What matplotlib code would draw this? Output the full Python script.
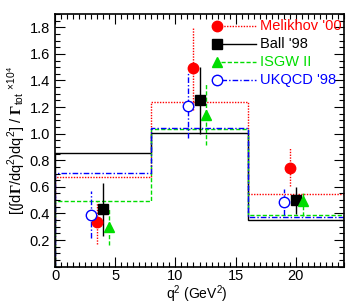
import matplotlib
matplotlib.use("Agg")
import matplotlib.pyplot as plt
from matplotlib.ticker import MultipleLocator
import numpy as np

plt.rcParams['font.family'] = ['Liberation Sans', 'DejaVu Sans']
plt.rcParams['mathtext.fontset'] = 'custom'
plt.rcParams['mathtext.rm'] = 'Liberation Sans'
plt.rcParams['mathtext.it'] = 'Liberation Sans'
plt.rcParams['mathtext.bf'] = 'Liberation Serif:bold'

bin_edges = [0, 8, 16, 24]
series = ["Melikhov '00", "Ball '98", "ISGW II", "UKQCD '98"]
colors = ['#ff0000', '#000000', '#00dd00', '#0000ff']
linestyles = [(0, (1, 1)), '-', (0, (3, 1.5)), (0, (4, 1.5, 1, 1.5))]
markers = ['o', 's', '^', 'o']
filled = [True, True, True, False]

hist_vals = {
    "Melikhov '00": [0.675, 1.235, 0.547],
    "Ball '98": [0.852, 1.003, 0.353],
    "ISGW II": [0.497, 1.035, 0.388],
    "UKQCD '98": [0.706, 1.045, 0.373],
}
pt_x = {
    "Melikhov '00": [3.5, 11.5, 19.5],
    "Ball '98": [4.0, 12.0, 20.0],
    "ISGW II": [4.5, 12.5, 20.6],
    "UKQCD '98": [3.0, 11.05, 19.05],
}
pt_y = {
    "Melikhov '00": [0.333, 1.49, 0.744],
    "Ball '98": [0.434, 1.255, 0.504],
    "ISGW II": [0.298, 1.14, 0.49],
    "UKQCD '98": [0.39, 1.21, 0.487],
}
err_lo = {
    "Melikhov '00": [0.17, 1.18, 0.605],
    "Ball '98": [0.232, 0.995, 0.398],
    "ISGW II": [0.164, 0.912, 0.378],
    "UKQCD '98": [0.215, 0.97, 0.39],
}
err_hi = {
    "Melikhov '00": [0.484, 1.80, 0.895],
    "Ball '98": [0.63, 1.504, 0.597],
    "ISGW II": [0.43, 1.373, 0.572],
    "UKQCD '98": [0.567, 1.466, 0.587],
}

fig = plt.figure(figsize=(3.55, 3.04), dpi=100)
ax = fig.add_axes([0.155, 0.123, 0.814, 0.831])

for s, c, ls in zip(series, colors, linestyles):
    v = hist_vals[s]
    ax.stairs(v, bin_edges, color=c, linestyle=ls, linewidth=1.0)

for s, c, ls, m, f in zip(series, colors, linestyles, markers, filled):
    xs = pt_x[s]
    ax.vlines(xs, err_lo[s], err_hi[s], colors=c, linestyles=[ls], linewidth=1.0, zorder=3)
    ax.plot(xs, pt_y[s], linestyle='none', marker=m, markersize=7.5,
            markerfacecolor=c if f else 'white', markeredgecolor=c,
            markeredgewidth=1.0, zorder=4)

# legend (manual, ROOT-style: marker at left, line to the right)
for i, (s, c, ls, m, f) in enumerate(zip(series, colors, linestyles, markers, filled)):
    yy = 0.954 - i * 0.0714
    ax.plot([0.575, 0.697], [yy, yy], transform=ax.transAxes, color=c, linestyle=ls, lw=1.0, clip_on=False, zorder=5)
    ax.plot([0.56], [yy], transform=ax.transAxes, marker=m, markersize=7.5, linestyle='none',
            markerfacecolor=c if f else 'white', markeredgecolor=c, markeredgewidth=1.0, zorder=6)
    ax.text(0.71, yy, s, transform=ax.transAxes, color=c, fontsize=10.5, va='center', ha='left', zorder=7)

ax.set_xlim(0, 24)
ax.set_ylim(0, 1.9)
ax.xaxis.set_major_locator(MultipleLocator(5))
ax.xaxis.set_minor_locator(MultipleLocator(0.5))
ax.yaxis.set_major_locator(MultipleLocator(0.2))
ax.yaxis.set_minor_locator(MultipleLocator(0.05))
ax.tick_params(which='both', direction='in', top=True, right=True, labelsize=10.5, width=0.8)
ax.tick_params(which='major', length=7)
ax.tick_params(which='minor', length=3.5)
ax.tick_params(axis='x', which='major', pad=2)
ax.set_yticks([0.2, 0.4, 0.6, 0.8, 1.0, 1.2, 1.4, 1.6, 1.8])
ax.set_yticklabels(['0.2', '0.4', '0.6', '0.8', '1.0', '1.2', '1.4', '1.6', '1.8'])
for sp in ax.spines.values():
    sp.set_linewidth(1.2)

ax.set_xlabel(r'q$^2$ (GeV$^2$)', fontsize=10, va='center')
ax.xaxis.set_label_coords(0.49, -0.11)
ax.set_ylabel(r'[($\int$d$\mathbf{\Gamma}$/dq$^2$)dq$^2$] / $\mathbf{\Gamma}_{\rm tot}$ $^{\times 10^{4}}$',
              fontsize=10.5, labelpad=3)

fig.savefig('out.png', dpi=100)
